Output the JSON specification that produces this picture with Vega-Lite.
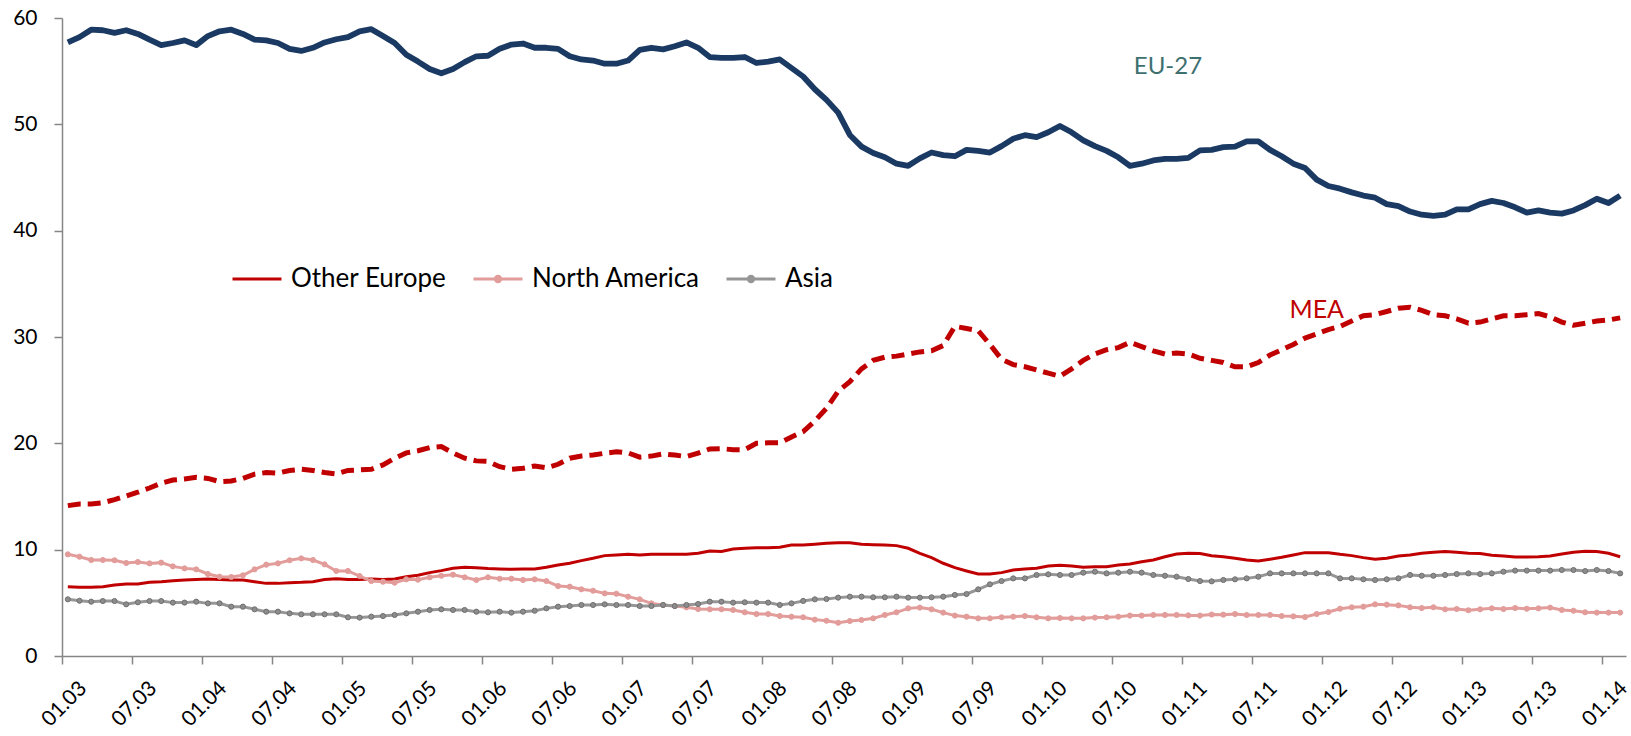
{
  "$schema": "https://vega.github.io/schema/vega-lite/v6.json",
  "width": 1564,
  "height": 638,
  "autosize": "none",
  "padding": {"left": 62, "top": 18, "right": 5, "bottom": 80},
  "background": "white",
  "config": {"view": {"stroke": null}, "font": "Lato"},
  "datasets": {
    "main": [
      {"m":"01.03","eu":57.7,"mea":14.14,"Other Europe":6.52,"North America":9.56,"Asia":5.33},
      {"m":"02.03","eu":58.2,"mea":14.3,"Other Europe":6.46,"North America":9.34,"Asia":5.2},
      {"m":"03.03","eu":58.9,"mea":14.3,"Other Europe":6.46,"North America":9.03,"Asia":5.11},
      {"m":"04.03","eu":58.85,"mea":14.42,"Other Europe":6.52,"North America":9.03,"Asia":5.17},
      {"m":"05.03","eu":58.6,"mea":14.7,"Other Europe":6.68,"North America":9.0,"Asia":5.17},
      {"m":"06.03","eu":58.85,"mea":15.05,"Other Europe":6.77,"North America":8.75,"Asia":4.86},
      {"m":"07.03","eu":58.5,"mea":15.4,"Other Europe":6.77,"North America":8.84,"Asia":5.05},
      {"m":"08.03","eu":57.96,"mea":15.8,"Other Europe":6.93,"North America":8.71,"Asia":5.17},
      {"m":"09.03","eu":57.45,"mea":16.25,"Other Europe":6.99,"North America":8.78,"Asia":5.17},
      {"m":"10.03","eu":57.65,"mea":16.55,"Other Europe":7.08,"North America":8.43,"Asia":5.02},
      {"m":"11.03","eu":57.9,"mea":16.65,"Other Europe":7.15,"North America":8.24,"Asia":5.02},
      {"m":"12.03","eu":57.45,"mea":16.8,"Other Europe":7.2,"North America":8.15,"Asia":5.11},
      {"m":"01.04","eu":58.3,"mea":16.7,"Other Europe":7.24,"North America":7.71,"Asia":4.95},
      {"m":"02.04","eu":58.75,"mea":16.4,"Other Europe":7.2,"North America":7.46,"Asia":4.95},
      {"m":"03.04","eu":58.9,"mea":16.46,"Other Europe":7.15,"North America":7.43,"Asia":4.64},
      {"m":"04.04","eu":58.5,"mea":16.7,"Other Europe":7.15,"North America":7.59,"Asia":4.64},
      {"m":"05.04","eu":57.96,"mea":17.1,"Other Europe":6.99,"North America":8.15,"Asia":4.39},
      {"m":"06.04","eu":57.9,"mea":17.25,"Other Europe":6.83,"North America":8.59,"Asia":4.17},
      {"m":"07.04","eu":57.65,"mea":17.2,"Other Europe":6.83,"North America":8.71,"Asia":4.17},
      {"m":"08.04","eu":57.1,"mea":17.45,"Other Europe":6.9,"North America":9.0,"Asia":4.01},
      {"m":"09.04","eu":56.9,"mea":17.56,"Other Europe":6.93,"North America":9.18,"Asia":3.92},
      {"m":"10.04","eu":57.2,"mea":17.45,"Other Europe":6.99,"North America":9.03,"Asia":3.92},
      {"m":"11.04","eu":57.7,"mea":17.25,"Other Europe":7.2,"North America":8.62,"Asia":3.92},
      {"m":"12.04","eu":58.0,"mea":17.12,"Other Europe":7.27,"North America":8.0,"Asia":3.92},
      {"m":"01.05","eu":58.2,"mea":17.45,"Other Europe":7.2,"North America":8.0,"Asia":3.64},
      {"m":"02.05","eu":58.75,"mea":17.5,"Other Europe":7.2,"North America":7.52,"Asia":3.61},
      {"m":"03.05","eu":58.95,"mea":17.56,"Other Europe":7.24,"North America":7.05,"Asia":3.7},
      {"m":"04.05","eu":58.3,"mea":17.97,"Other Europe":7.2,"North America":6.99,"Asia":3.76},
      {"m":"05.05","eu":57.65,"mea":18.6,"Other Europe":7.24,"North America":6.9,"Asia":3.86},
      {"m":"06.05","eu":56.55,"mea":19.1,"Other Europe":7.46,"North America":7.21,"Asia":4.01},
      {"m":"07.05","eu":55.9,"mea":19.3,"Other Europe":7.6,"North America":7.18,"Asia":4.17},
      {"m":"08.05","eu":55.2,"mea":19.6,"Other Europe":7.84,"North America":7.4,"Asia":4.33},
      {"m":"09.05","eu":54.8,"mea":19.7,"Other Europe":8.03,"North America":7.55,"Asia":4.39},
      {"m":"10.05","eu":55.2,"mea":19.1,"Other Europe":8.25,"North America":7.65,"Asia":4.33},
      {"m":"11.05","eu":55.85,"mea":18.6,"Other Europe":8.34,"North America":7.4,"Asia":4.33},
      {"m":"12.05","eu":56.4,"mea":18.35,"Other Europe":8.31,"North America":7.15,"Asia":4.17},
      {"m":"01.06","eu":56.45,"mea":18.3,"Other Europe":8.22,"North America":7.4,"Asia":4.11},
      {"m":"02.06","eu":57.1,"mea":17.8,"Other Europe":8.18,"North America":7.27,"Asia":4.17},
      {"m":"03.06","eu":57.5,"mea":17.56,"Other Europe":8.15,"North America":7.27,"Asia":4.08},
      {"m":"04.06","eu":57.6,"mea":17.65,"Other Europe":8.18,"North America":7.15,"Asia":4.17},
      {"m":"05.06","eu":57.2,"mea":17.87,"Other Europe":8.18,"North America":7.21,"Asia":4.26},
      {"m":"06.06","eu":57.2,"mea":17.7,"Other Europe":8.34,"North America":7.05,"Asia":4.48},
      {"m":"07.06","eu":57.1,"mea":18.03,"Other Europe":8.56,"North America":6.58,"Asia":4.64},
      {"m":"08.06","eu":56.4,"mea":18.6,"Other Europe":8.72,"North America":6.52,"Asia":4.7},
      {"m":"09.06","eu":56.1,"mea":18.8,"Other Europe":8.97,"North America":6.27,"Asia":4.8},
      {"m":"10.06","eu":56.0,"mea":18.9,"Other Europe":9.19,"North America":6.14,"Asia":4.8},
      {"m":"11.06","eu":55.7,"mea":19.07,"Other Europe":9.44,"North America":5.89,"Asia":4.86},
      {"m":"12.06","eu":55.7,"mea":19.2,"Other Europe":9.5,"North America":5.86,"Asia":4.8},
      {"m":"01.07","eu":56.0,"mea":19.1,"Other Europe":9.56,"North America":5.58,"Asia":4.8},
      {"m":"02.07","eu":57.0,"mea":18.7,"Other Europe":9.5,"North America":5.33,"Asia":4.7},
      {"m":"03.07","eu":57.2,"mea":18.8,"Other Europe":9.56,"North America":4.95,"Asia":4.7},
      {"m":"04.07","eu":57.05,"mea":19.0,"Other Europe":9.56,"North America":4.8,"Asia":4.8},
      {"m":"05.07","eu":57.35,"mea":18.9,"Other Europe":9.56,"North America":4.7,"Asia":4.7},
      {"m":"06.07","eu":57.7,"mea":18.75,"Other Europe":9.56,"North America":4.58,"Asia":4.8},
      {"m":"07.07","eu":57.2,"mea":19.07,"Other Europe":9.66,"North America":4.42,"Asia":4.89},
      {"m":"08.07","eu":56.33,"mea":19.47,"Other Europe":9.88,"North America":4.39,"Asia":5.11},
      {"m":"09.07","eu":56.25,"mea":19.5,"Other Europe":9.82,"North America":4.39,"Asia":5.11},
      {"m":"10.07","eu":56.25,"mea":19.4,"Other Europe":10.07,"North America":4.33,"Asia":5.02},
      {"m":"11.07","eu":56.33,"mea":19.4,"Other Europe":10.13,"North America":4.11,"Asia":5.05},
      {"m":"12.07","eu":55.77,"mea":20.0,"Other Europe":10.19,"North America":3.95,"Asia":5.02},
      {"m":"01.08","eu":55.9,"mea":20.05,"Other Europe":10.19,"North America":3.95,"Asia":5.02},
      {"m":"02.08","eu":56.1,"mea":20.05,"Other Europe":10.22,"North America":3.76,"Asia":4.8},
      {"m":"03.08","eu":55.3,"mea":20.6,"Other Europe":10.44,"North America":3.7,"Asia":4.95},
      {"m":"04.08","eu":54.5,"mea":21.1,"Other Europe":10.45,"North America":3.64,"Asia":5.18},
      {"m":"05.08","eu":53.3,"mea":22.1,"Other Europe":10.52,"North America":3.42,"Asia":5.33},
      {"m":"06.08","eu":52.3,"mea":23.3,"Other Europe":10.6,"North America":3.32,"Asia":5.36},
      {"m":"07.08","eu":51.1,"mea":24.9,"Other Europe":10.66,"North America":3.13,"Asia":5.49},
      {"m":"08.08","eu":49.0,"mea":25.8,"Other Europe":10.66,"North America":3.29,"Asia":5.58},
      {"m":"09.08","eu":47.9,"mea":27.0,"Other Europe":10.5,"North America":3.39,"Asia":5.58},
      {"m":"10.08","eu":47.3,"mea":27.8,"Other Europe":10.47,"North America":3.54,"Asia":5.52},
      {"m":"11.08","eu":46.9,"mea":28.1,"Other Europe":10.44,"North America":3.86,"Asia":5.52},
      {"m":"12.08","eu":46.3,"mea":28.2,"Other Europe":10.38,"North America":4.11,"Asia":5.58},
      {"m":"01.09","eu":46.1,"mea":28.4,"Other Europe":10.13,"North America":4.48,"Asia":5.49},
      {"m":"02.09","eu":46.8,"mea":28.6,"Other Europe":9.66,"North America":4.55,"Asia":5.49},
      {"m":"03.09","eu":47.35,"mea":28.7,"Other Europe":9.25,"North America":4.39,"Asia":5.52},
      {"m":"04.09","eu":47.1,"mea":29.2,"Other Europe":8.72,"North America":4.08,"Asia":5.58},
      {"m":"05.09","eu":47.0,"mea":31.0,"Other Europe":8.31,"North America":3.8,"Asia":5.74},
      {"m":"06.09","eu":47.6,"mea":30.8,"Other Europe":8.0,"North America":3.7,"Asia":5.83},
      {"m":"07.09","eu":47.5,"mea":30.6,"Other Europe":7.71,"North America":3.54,"Asia":6.27},
      {"m":"08.09","eu":47.35,"mea":29.3,"Other Europe":7.71,"North America":3.54,"Asia":6.74},
      {"m":"09.09","eu":47.95,"mea":27.9,"Other Europe":7.84,"North America":3.64,"Asia":7.05},
      {"m":"10.09","eu":48.65,"mea":27.4,"Other Europe":8.09,"North America":3.7,"Asia":7.3},
      {"m":"11.09","eu":48.98,"mea":27.2,"Other Europe":8.18,"North America":3.76,"Asia":7.3},
      {"m":"12.09","eu":48.8,"mea":26.9,"Other Europe":8.25,"North America":3.64,"Asia":7.62},
      {"m":"01.10","eu":49.25,"mea":26.6,"Other Europe":8.47,"North America":3.54,"Asia":7.68},
      {"m":"02.10","eu":49.85,"mea":26.3,"Other Europe":8.53,"North America":3.57,"Asia":7.62},
      {"m":"03.10","eu":49.25,"mea":27.0,"Other Europe":8.47,"North America":3.54,"Asia":7.62},
      {"m":"04.10","eu":48.5,"mea":27.8,"Other Europe":8.34,"North America":3.54,"Asia":7.84},
      {"m":"05.10","eu":47.95,"mea":28.4,"Other Europe":8.4,"North America":3.61,"Asia":7.93},
      {"m":"06.10","eu":47.5,"mea":28.8,"Other Europe":8.4,"North America":3.64,"Asia":7.77},
      {"m":"07.10","eu":46.9,"mea":29.0,"Other Europe":8.56,"North America":3.7,"Asia":7.84},
      {"m":"08.10","eu":46.1,"mea":29.5,"Other Europe":8.65,"North America":3.8,"Asia":7.93},
      {"m":"09.10","eu":46.3,"mea":29.1,"Other Europe":8.87,"North America":3.8,"Asia":7.84},
      {"m":"10.10","eu":46.6,"mea":28.7,"Other Europe":9.03,"North America":3.86,"Asia":7.62},
      {"m":"11.10","eu":46.75,"mea":28.4,"Other Europe":9.34,"North America":3.86,"Asia":7.55},
      {"m":"12.10","eu":46.75,"mea":28.5,"Other Europe":9.6,"North America":3.86,"Asia":7.46},
      {"m":"01.11","eu":46.85,"mea":28.4,"Other Europe":9.66,"North America":3.82,"Asia":7.24},
      {"m":"02.11","eu":47.55,"mea":28.0,"Other Europe":9.63,"North America":3.8,"Asia":7.05},
      {"m":"03.11","eu":47.6,"mea":27.8,"Other Europe":9.42,"North America":3.9,"Asia":7.02},
      {"m":"04.11","eu":47.85,"mea":27.6,"Other Europe":9.34,"North America":3.89,"Asia":7.15},
      {"m":"05.11","eu":47.9,"mea":27.2,"Other Europe":9.19,"North America":3.95,"Asia":7.21},
      {"m":"06.11","eu":48.4,"mea":27.2,"Other Europe":9.03,"North America":3.86,"Asia":7.3},
      {"m":"07.11","eu":48.4,"mea":27.6,"Other Europe":8.94,"North America":3.86,"Asia":7.46},
      {"m":"08.11","eu":47.6,"mea":28.3,"Other Europe":9.1,"North America":3.86,"Asia":7.77},
      {"m":"09.11","eu":47.0,"mea":28.8,"Other Europe":9.28,"North America":3.76,"Asia":7.77},
      {"m":"10.11","eu":46.3,"mea":29.3,"Other Europe":9.5,"North America":3.73,"Asia":7.77},
      {"m":"11.11","eu":45.9,"mea":29.9,"Other Europe":9.72,"North America":3.67,"Asia":7.77},
      {"m":"12.11","eu":44.8,"mea":30.3,"Other Europe":9.72,"North America":3.95,"Asia":7.77},
      {"m":"01.12","eu":44.2,"mea":30.7,"Other Europe":9.72,"North America":4.14,"Asia":7.77},
      {"m":"02.12","eu":43.95,"mea":31.0,"Other Europe":9.56,"North America":4.45,"Asia":7.3},
      {"m":"03.12","eu":43.6,"mea":31.5,"Other Europe":9.44,"North America":4.58,"Asia":7.3},
      {"m":"04.12","eu":43.3,"mea":32.0,"Other Europe":9.25,"North America":4.64,"Asia":7.21},
      {"m":"05.12","eu":43.1,"mea":32.1,"Other Europe":9.1,"North America":4.86,"Asia":7.15},
      {"m":"06.12","eu":42.5,"mea":32.4,"Other Europe":9.19,"North America":4.83,"Asia":7.21},
      {"m":"07.12","eu":42.3,"mea":32.7,"Other Europe":9.41,"North America":4.76,"Asia":7.3},
      {"m":"08.12","eu":41.8,"mea":32.8,"Other Europe":9.5,"North America":4.58,"Asia":7.62},
      {"m":"09.12","eu":41.5,"mea":32.5,"Other Europe":9.66,"North America":4.51,"Asia":7.55},
      {"m":"10.12","eu":41.4,"mea":32.1,"Other Europe":9.75,"North America":4.58,"Asia":7.55},
      {"m":"11.12","eu":41.5,"mea":32.0,"Other Europe":9.82,"North America":4.39,"Asia":7.62},
      {"m":"12.12","eu":42.0,"mea":31.7,"Other Europe":9.75,"North America":4.42,"Asia":7.71},
      {"m":"01.13","eu":42.0,"mea":31.3,"Other Europe":9.66,"North America":4.3,"Asia":7.77},
      {"m":"02.13","eu":42.5,"mea":31.4,"Other Europe":9.63,"North America":4.39,"Asia":7.71},
      {"m":"03.13","eu":42.8,"mea":31.7,"Other Europe":9.47,"North America":4.48,"Asia":7.77},
      {"m":"04.13","eu":42.6,"mea":32.0,"Other Europe":9.41,"North America":4.42,"Asia":7.93},
      {"m":"05.13","eu":42.2,"mea":32.0,"Other Europe":9.31,"North America":4.51,"Asia":8.03},
      {"m":"06.13","eu":41.7,"mea":32.1,"Other Europe":9.31,"North America":4.45,"Asia":8.03},
      {"m":"07.13","eu":41.9,"mea":32.2,"Other Europe":9.34,"North America":4.48,"Asia":8.03},
      {"m":"08.13","eu":41.7,"mea":31.9,"Other Europe":9.41,"North America":4.55,"Asia":8.03},
      {"m":"09.13","eu":41.6,"mea":31.4,"Other Europe":9.6,"North America":4.33,"Asia":8.09},
      {"m":"10.13","eu":41.9,"mea":31.1,"Other Europe":9.75,"North America":4.26,"Asia":8.09},
      {"m":"11.13","eu":42.4,"mea":31.3,"Other Europe":9.85,"North America":4.11,"Asia":7.99},
      {"m":"12.13","eu":43.0,"mea":31.5,"Other Europe":9.82,"North America":4.08,"Asia":8.09},
      {"m":"01.14","eu":42.6,"mea":31.6,"Other Europe":9.66,"North America":4.08,"Asia":7.99},
      {"m":"02.14","eu":43.3,"mea":31.8,"Other Europe":9.34,"North America":4.08,"Asia":7.77}
    ]
  },
  "data": {"name": "main"},
  "encoding": {
    "x": {
      "field": "m", "type": "ordinal", "sort": null,
      "scale": {"type": "band", "paddingInner": 0, "paddingOuter": 0,
        "domain": ["01.03","02.03","03.03","04.03","05.03","06.03","07.03","08.03","09.03","10.03","11.03","12.03","01.04","02.04","03.04","04.04","05.04","06.04","07.04","08.04","09.04","10.04","11.04","12.04","01.05","02.05","03.05","04.05","05.05","06.05","07.05","08.05","09.05","10.05","11.05","12.05","01.06","02.06","03.06","04.06","05.06","06.06","07.06","08.06","09.06","10.06","11.06","12.06","01.07","02.07","03.07","04.07","05.07","06.07","07.07","08.07","09.07","10.07","11.07","12.07","01.08","02.08","03.08","04.08","05.08","06.08","07.08","08.08","09.08","10.08","11.08","12.08","01.09","02.09","03.09","04.09","05.09","06.09","07.09","08.09","09.09","10.09","11.09","12.09","01.10","02.10","03.10","04.10","05.10","06.10","07.10","08.10","09.10","10.10","11.10","12.10","01.11","02.11","03.11","04.11","05.11","06.11","07.11","08.11","09.11","10.11","11.11","12.11","01.12","02.12","03.12","04.12","05.12","06.12","07.12","08.12","09.12","10.12","11.12","12.12","01.13","02.13","03.13","04.13","05.13","06.13","07.13","08.13","09.13","10.13","11.13","12.13","01.14","02.14"]},
      "axis": {
        "title": null,
        "values": ["01.03","07.03","01.04","07.04","01.05","07.05","01.06","07.06","01.07","07.07","01.08","07.08","01.09","07.09","01.10","07.10","01.11","07.11","01.12","07.12","01.13","07.13","01.14"],
        "bandPosition": 0,
        "labelAngle": -45,
        "labelOffset": 8,
        "labelFontSize": 21,
        "labelFont": "Lato",
        "labelColor": "#000000",
        "labelPadding": 13,
        "tickSize": 8,
        "tickColor": "#868686",
        "domainColor": "#868686",
        "tickWidth": 1.5,
        "domainWidth": 1.5,
        "grid": false
      }
    }
  },
  "layer": [
    {
      "mark": {"type": "line", "color": "#C00000", "strokeWidth": 5, "strokeDash": [13, 7], "strokeCap": "butt"},
      "encoding": {
        "y": {
          "field": "mea", "type": "quantitative",
          "scale": {"domain": [0, 60], "nice": false, "zero": true},
          "axis": {
            "title": null, "values": [0, 10, 20, 30, 40, 50, 60],
            "labelFontSize": 21, "labelFont": "Lato", "labelColor": "#000000",
            "labelPadding": 17, "tickSize": 8, "tickColor": "#868686",
            "domainColor": "#868686", "tickWidth": 1.5, "domainWidth": 1.5, "grid": false
          }
        }
      }
    },
    {
      "transform": [{"fold": ["Other Europe", "North America", "Asia"], "as": ["s", "v"]}],
      "mark": {"type": "line"},
      "encoding": {
        "y": {"field": "v", "type": "quantitative"},
        "color": {
          "field": "s", "type": "nominal",
          "scale": {"domain": ["Other Europe", "North America", "Asia"], "range": ["#C00000", "#E29C9A", "#969696"]},
          "legend": {
            "orient": "none", "legendX": 169, "legendY": 235,
            "direction": "horizontal", "title": null,
            "labelFontSize": 26, "labelFont": "Lato", "labelColor": "#000000",
            "labelLimit": 400,
            "symbolSize": 2401, "symbolStrokeWidth": 3, "symbolType": "M-1,0H1",
            "labelOffset": 8, "columnPadding": 20,
            "encode": {
              "symbols": {
                "update": {
                  "shape": {"signal": "datum.value === 'Other Europe' ? 'M-1,0H1' : 'M-1,0H1M-0.11,0a0.11,0.11 0 1,0 0.22,0a0.11,0.11 0 1,0 -0.22,0'"},
                  "fill": {"signal": "datum.value === 'Other Europe' ? 'transparent' : (datum.value === 'Asia' ? '#8C8C8C' : '#E29C9A')"},
                  "stroke": {"signal": "scale('color', datum.value)"},
                  "strokeWidth": {"signal": "datum.value === 'Asia' ? 2 : 3"}
                }
              }
            }
          }
        },
        "strokeWidth": {
          "field": "s", "type": "nominal",
          "scale": {"domain": ["Other Europe", "North America", "Asia"], "range": [3, 3, 2]},
          "legend": null
        }
      }
    },
    {
      "transform": [
        {"fold": ["North America", "Asia"], "as": ["s", "v"]}
      ],
      "mark": {"type": "circle", "size": 26, "opacity": 1, "strokeWidth": 1},
      "encoding": {
        "y": {"field": "v", "type": "quantitative"},
        "fill": {"field": "s", "type": "nominal", "scale": {"domain": ["North America", "Asia"], "range": ["#E29C9A", "#8C8C8C"]}, "legend": null},
        "stroke": {"field": "s", "type": "nominal", "scale": {"domain": ["North America", "Asia"], "range": ["#E29C9A", "#707070"]}, "legend": null}
      }
    },
    {
      "mark": {"type": "line", "color": "#1B3A63", "strokeWidth": 5.8, "strokeJoin": "round"},
      "encoding": {"y": {"field": "eu", "type": "quantitative"}}
    },
    {
      "data": {"values": [{}]},
      "mark": {"type": "text", "fontSize": 24, "font": "Lato", "color": "#3E7070", "align": "center", "baseline": "middle", "dx": 3},
      "encoding": {
        "x": {"datum": "11.10"},
        "y": {"datum": 55.4},
        "text": {"value": "EU-27"}
      }
    },
    {
      "data": {"values": [{}]},
      "mark": {"type": "text", "fontSize": 25, "font": "Lato", "color": "#C00000", "align": "center", "baseline": "middle"},
      "encoding": {
        "x": {"datum": "12.11"},
        "y": {"datum": 32.5},
        "text": {"value": "MEA"}
      }
    }
  ]
}
